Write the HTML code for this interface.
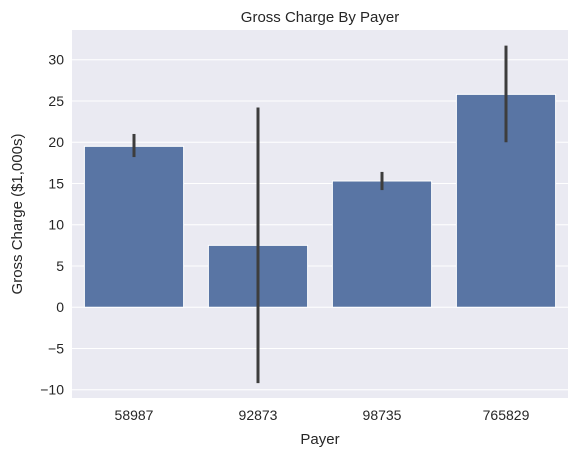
<!DOCTYPE html>
<html><head><meta charset="utf-8"><style>
body{margin:0;background:#fff;font-family:"Liberation Sans","DejaVu Sans",sans-serif}
svg text{font-family:"Liberation Sans","DejaVu Sans",sans-serif;fill:#262626}
</style></head><body>
<svg id="chart" width="577" height="457"></svg>
<script>
const categories=["58987","92873","98735","765829"];
const values=[19.5,7.5,15.3,25.8];
const errLow=[18.2,-9.2,14.2,20.0];
const errHigh=[21.0,24.2,16.4,31.7];
const yTicks=[-10,-5,0,5,10,15,20,25,30];
const NS="http://www.w3.org/2000/svg";
const svg=document.getElementById('chart');
const L=72,R=568,T=30,B=398,yMin=-11.0,yMax=33.6;
const y=v=>B-(v-yMin)/(yMax-yMin)*(B-T);
const step=(R-L)/categories.length;
const x=i=>L+step*(i+0.5);
function mk(t,a,p){const e=document.createElementNS(NS,t);for(const k in a)e.setAttribute(k,a[k]);(p||svg).appendChild(e);return e;}
const bg=mk('rect',{x:L,y:T,width:R-L,height:B-T,fill:'#eaeaf2'});


yTicks.forEach(t=>{
 const g=mk('line',{x1:L,x2:R,y1:y(t),y2:y(t),stroke:'#fff','stroke-width':1});
 
 
 const tx=mk('text',{x:L-8,y:y(t)+5,'text-anchor':'end','font-size':14});
 tx.textContent=String(t).replace('-','\u2212');
 
 
});
categories.forEach((c,i)=>{
 const bw=step*0.8;
 const r=mk('rect',{x:x(i)-bw/2,y:Math.min(y(values[i]),y(0)),width:bw,height:Math.abs(y(0)-y(values[i])),fill:'#5975a4',stroke:'#fff','stroke-width':1});
 
 
 const e=mk('line',{x1:x(i),x2:x(i),y1:y(errLow[i]),y2:y(errHigh[i]),stroke:'#3d3d3d','stroke-width':3});
 
 
 const tx=mk('text',{x:x(i),y:B+22,'text-anchor':'middle','font-size':14});
 tx.textContent=c;
 
 
});
const title=mk('text',{x:(L+R)/2,y:22,'text-anchor':'middle','font-size':15});
title.textContent='Gross Charge By Payer';


const xl=mk('text',{x:(L+R)/2,y:444,'text-anchor':'middle','font-size':15});
xl.textContent='Payer';


const yl=mk('text',{x:22,y:(T+B)/2,'text-anchor':'middle','font-size':15,transform:`rotate(-90 22 ${(T+B)/2})`});
yl.textContent='Gross Charge ($1,000s)';


</script>
</body></html>
